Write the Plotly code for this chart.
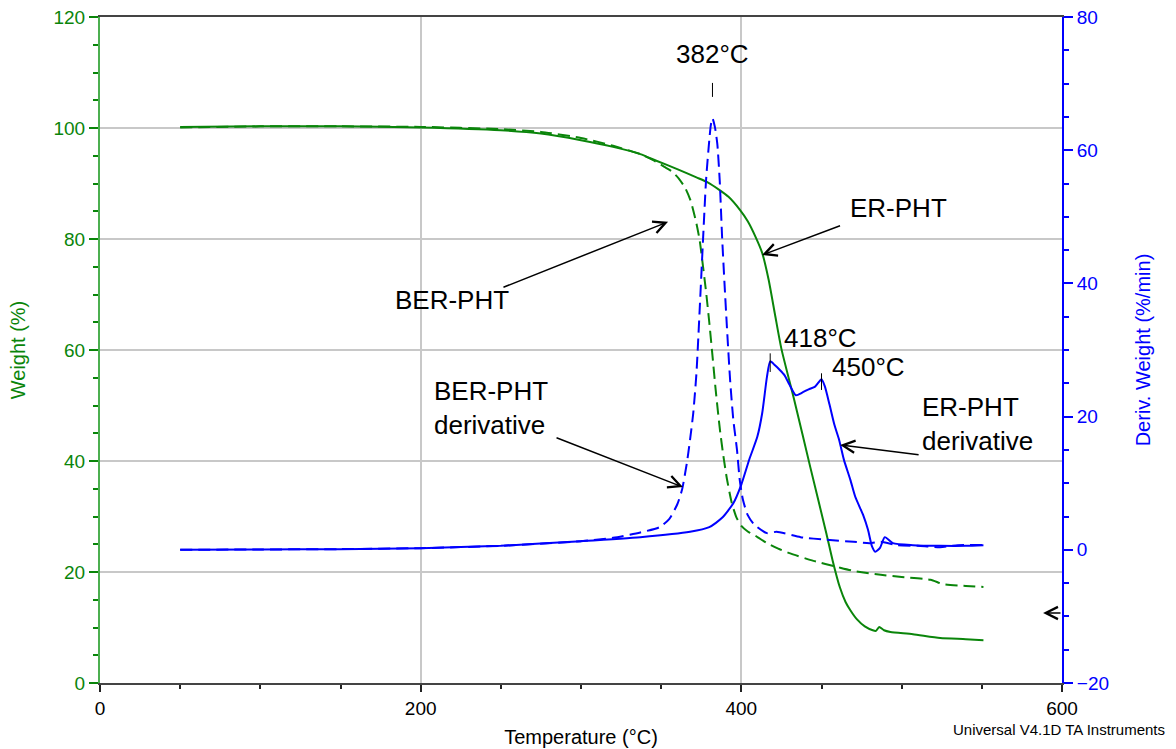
import numpy as np
import plotly.graph_objects as go

# ---- TGA weight curves (Temperature °C -> Weight %) ----
er_temp = [50, 100, 150, 200, 250, 275, 300, 320, 337, 347, 360, 372, 379, 386, 392, 399, 404,
           409, 413, 417, 421, 425, 433, 443, 453, 457, 461.5, 465, 468, 472, 477, 482, 484,
           486, 489, 493, 507, 524, 540, 551]
er_weight = [100.2, 100.3, 100.3, 100.1, 99.6, 99.0, 97.8, 96.6, 95.3, 94.1, 92.6, 91.1, 90.2,
             88.9, 87.6, 85.3, 83.2, 80.3, 77.5, 72.7, 66.4, 60.2, 51.0, 38.9, 27.0, 22.0, 17.2,
             14.6, 13.1, 11.5, 10.2, 9.5, 9.4, 10.1, 9.5, 9.2, 8.8, 8.1, 7.9, 7.7]

ber_temp = [50, 100, 150, 200, 250, 275, 300, 320, 337, 345, 352, 357, 361, 365, 368, 370, 372,
            374, 376, 378, 380, 382, 384, 386.7, 389, 391, 394, 397, 400, 404, 410, 416, 423,
            430, 445, 460, 470, 487, 500, 518, 526, 540, 551]
ber_weight = [100.1, 100.3, 100.3, 100.2, 99.8, 99.3, 98.2, 96.8, 95.3, 94.2, 93.0, 92.1, 90.9,
              89.2, 87.2, 85.2, 82.8, 79.8, 75.3, 70.5, 65.0, 59.0, 52.8, 45.5, 40.5, 36.8,
              32.5, 29.8, 28.3, 27.3, 26.3, 25.2, 24.2, 23.4, 22.0, 20.9, 20.2, 19.5, 19.1,
              18.6, 17.8, 17.5, 17.3]

# ---- DTG derivative curves (Temperature °C -> %/min) ----
er_d_temp = [50, 100, 150, 200, 250, 300, 337, 368, 380, 388, 395, 400, 405, 410, 413, 416, 418,
             421, 424, 427, 430, 434, 438, 442, 446, 450, 452, 455, 458, 461, 464, 468, 471, 476,
             479, 481.5, 483.5, 486.5, 489.5, 494.5, 507, 524, 540, 551]
er_deriv = [0.0, 0.05, 0.1, 0.25, 0.6, 1.3, 1.9, 2.7, 3.4, 4.8, 7.0, 9.8, 13.6, 17.0, 20.5, 26.0,
            28.3, 27.7, 27.0, 26.2, 24.8, 23.2, 23.6, 24.1, 24.5, 25.6, 24.6, 21.8, 18.8, 16.5,
            13.5, 10.5, 8.0, 5.2, 3.0, 0.5, -0.3, 0.3, 1.9, 1.0, 0.7, 0.6, 0.6, 0.7]

ber_d_temp = [50, 100, 150, 200, 250, 300, 320, 337, 349, 355, 360, 363, 366, 368, 370, 372, 374,
              376, 378, 380, 381, 382, 383.5, 385, 386.5, 388, 389.5, 391, 393, 395, 397.3, 399,
              401, 404, 408, 416, 422, 437, 453, 470, 480, 487, 497, 510, 524, 535, 551]
ber_deriv = [0.0, 0.05, 0.1, 0.25, 0.6, 1.3, 1.8, 2.6, 3.4, 4.6, 6.8, 9.0, 13.0, 16.5, 20.5, 26.5,
             36.0, 46.0, 55.5, 61.5, 63.8, 64.8, 63.5, 61.0, 55.5, 47.0, 40.0, 33.5, 25.5, 19.5,
             15.0, 10.5, 7.5, 5.2, 3.8, 2.5, 2.7, 1.9, 1.5, 1.2, 1.0, 1.2, 0.7, 0.6, 0.4, 0.7, 0.7]

# Peak temperatures marked on the derivative curves
peak_labels = ["382°C", "418°C", "450°C"]
peak_temps = [382, 418, 450]

GREEN = "#0a850a"
BLUE = "#0000ff"
FONT = "Liberation Sans, Arial, sans-serif"
DASH = "12px,6px"

fig = go.Figure()

line_kw = dict(mode="lines", line_shape="spline", hoverinfo="skip", showlegend=False)
fig.add_trace(go.Scatter(x=er_temp, y=er_weight, name="ER-PHT",
                         line=dict(color=GREEN, width=2, smoothing=0.6), **line_kw))
fig.add_trace(go.Scatter(x=ber_temp, y=ber_weight, name="BER-PHT",
                         line=dict(color=GREEN, width=2, dash=DASH, smoothing=0.6), **line_kw))
fig.add_trace(go.Scatter(x=er_d_temp, y=er_deriv, name="ER-PHT derivative", yaxis="y2",
                         line=dict(color=BLUE, width=2, smoothing=0.6), **line_kw))
fig.add_trace(go.Scatter(x=ber_d_temp, y=ber_deriv, name="BER-PHT derivative", yaxis="y2",
                         line=dict(color=BLUE, width=2, dash=DASH, smoothing=0.6), **line_kw))

# Peak markers: short vertical ticks with temperature labels
peak_src = [(ber_d_temp, ber_deriv), (er_d_temp, er_deriv), (er_d_temp, er_deriv)]
tick_span = [(3.2, 5.3), (-1.6, 1.2), (-1.6, 0.9)]
label_off = [(0, 9.6), (7.5, 3.5), (5.5, 1.9)]
for lab, t, (tt, dd), (lo, hi), (dx, dy) in zip(peak_labels, peak_temps, peak_src, tick_span, label_off):
    pv = float(np.interp(t, tt, dd))
    fig.add_shape(type="line", xref="x", yref="y2", x0=t, x1=t, y0=pv + lo, y1=pv + hi,
                  line=dict(color="black", width=1))
    fig.add_annotation(x=t + dx, y=pv + dy, xref="x", yref="y2", text=lab, showarrow=False,
                       xanchor="center" if dx == 0 else "left",
                       font=dict(size=26, color="black", family=FONT))

# Curve labels with arrows
arrow_kw = dict(showarrow=True, arrowhead=5, arrowsize=1.6, arrowwidth=1.5, arrowcolor="black",
                axref="x", ayref="y", xref="x", yref="y")
fig.add_annotation(x=412.9, y=77.1, ax=462.5, ay=82.5, text="", **arrow_kw)
fig.add_annotation(x=354.3, y=83.1, ax=250.7, ay=71.2, text="", **arrow_kw)
fig.add_annotation(x=363.6, y=35.3, ax=283.8, ay=44.3, text="", **arrow_kw)
fig.add_annotation(x=461.6, y=42.9, ax=511.5, ay=41.1, text="", **arrow_kw)
fig.add_annotation(x=588.2, y=12.6, ax=600, ay=12.6, text="", **arrow_kw)

txt_kw = dict(showarrow=False, xref="x", yref="y", font=dict(size=26, color="black", family=FONT))
fig.add_annotation(x=466.5, y=85.6, text="ER-PHT", xanchor="left", **txt_kw)
fig.add_annotation(x=182.7, y=69.0, text="BER-PHT", xanchor="left", **txt_kw)
fig.add_annotation(x=207.0, y=49.5, text="BER-PHT<br>derivative", xanchor="left", align="left",
                   **txt_kw)
fig.add_annotation(x=511.5, y=46.6, text="ER-PHT<br>derivative", xanchor="left", align="left",
                   **txt_kw)

fig.add_annotation(x=1.0, y=0, xref="paper", yref="paper", yshift=-46, xshift=105,
                   text="Universal V4.1D TA Instruments", showarrow=False, xanchor="right",
                   yanchor="middle", font=dict(size=15, color="black", family=FONT))

fig.update_layout(
    width=1176, height=749,
    margin=dict(l=100, r=114, t=17, b=66),
    paper_bgcolor="white", plot_bgcolor="white",
    font=dict(family=FONT),
    xaxis=dict(
        range=[0, 600], dtick=200, tick0=0, showgrid=True, gridcolor="#c8c8c8", gridwidth=1.5,
        zeroline=False, showline=True, linecolor="#444", linewidth=2, mirror=True,
        ticks="outside", ticklen=7, tickcolor="#222", tickwidth=1.5, automargin=False,
        minor=dict(dtick=50, ticks="outside", ticklen=4, tickcolor="#222", showgrid=False),
        tickfont=dict(size=19, color="black"),
        title=dict(text="Temperature (°C)", font=dict(size=20, color="black"), standoff=12),
    ),
    yaxis=dict(
        range=[0, 120], dtick=20, showgrid=True, gridcolor="#c8c8c8", gridwidth=1.5,
        zeroline=False, showline=True, linecolor="#4caf50", linewidth=2, automargin=False,
        ticks="outside", ticklen=9, tickcolor=GREEN, tickwidth=1.5,
        minor=dict(dtick=5, ticks="outside", ticklen=5, tickcolor=GREEN, showgrid=False),
        tickfont=dict(size=19, color=GREEN),
        title=dict(text="Weight (%)", font=dict(size=20, color=GREEN), standoff=22),
    ),
    yaxis2=dict(
        range=[-20, 80], dtick=20, overlaying="y", side="right", showgrid=False,
        zeroline=False, showline=True, linecolor=BLUE, linewidth=2, automargin=False,
        ticks="outside", ticklen=9, tickcolor=BLUE, tickwidth=1.5,
        minor=dict(dtick=5, ticks="outside", ticklen=5, tickcolor=BLUE, showgrid=False),
        tickfont=dict(size=19, color=BLUE),
        title=dict(text="Deriv. Weight (%/min)", font=dict(size=20, color=BLUE), standoff=28),
    ),
)

fig.write_html("out.html")
